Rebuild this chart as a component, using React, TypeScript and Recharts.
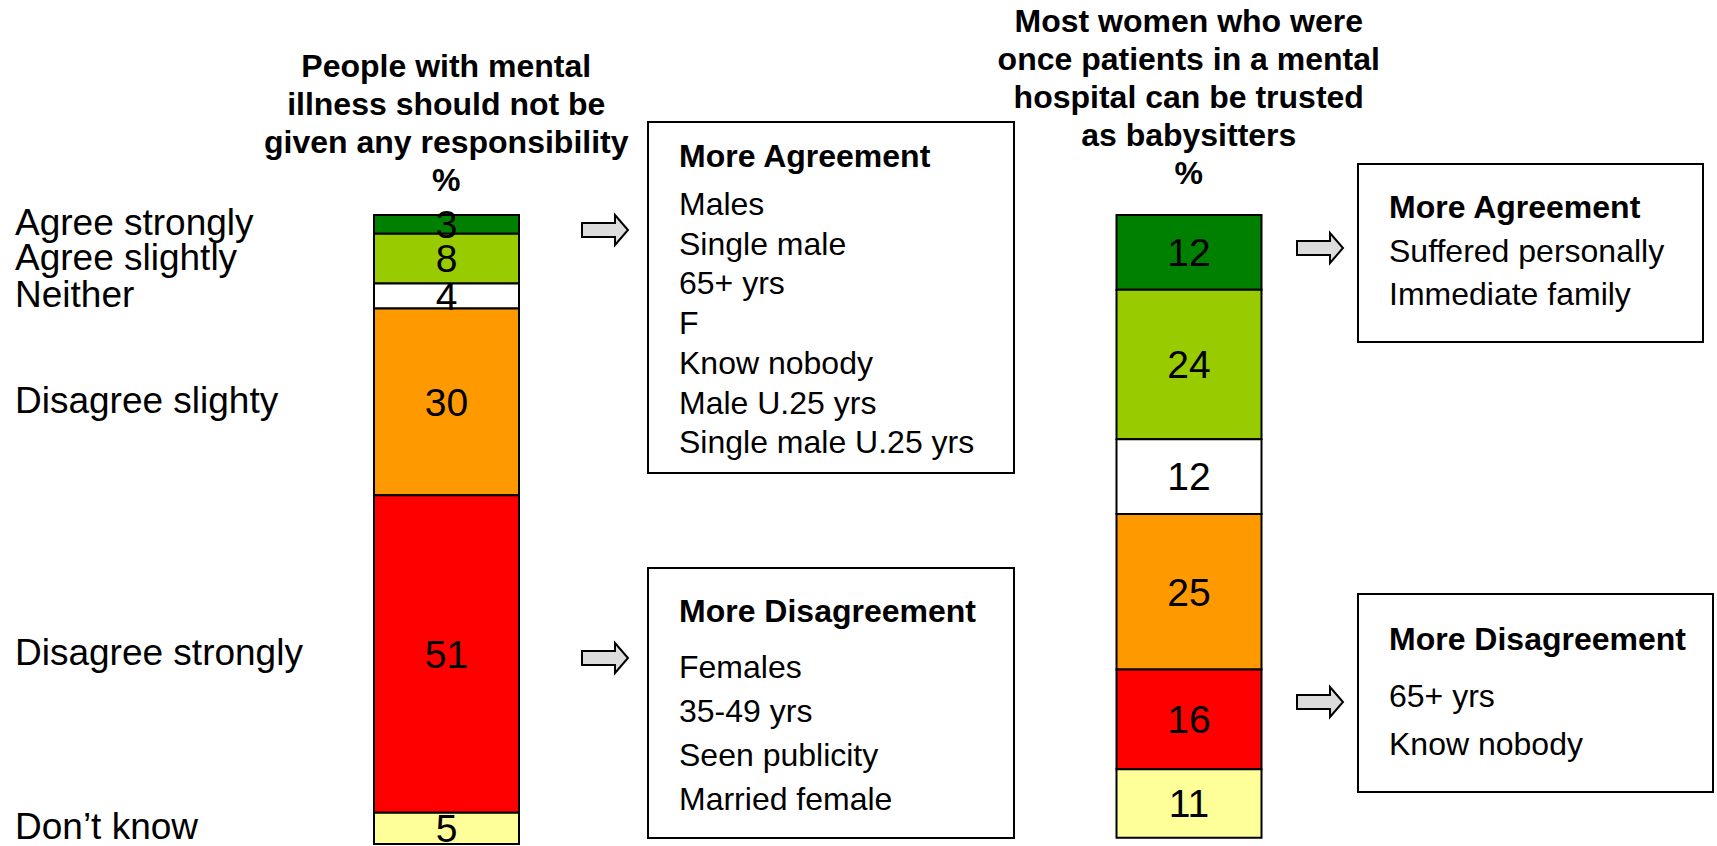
import React from "react";
import { BarChart, Bar, XAxis, YAxis, LabelList } from "recharts";

// two survey statements, same six answer categories
const questions = ["responsibility", "babysitters"];
const questionTitles = [
  ["People with mental", "illness should not be", "given any responsibility", "%"],
  ["Most women who were", "once patients in a mental", "hospital can be trusted", "as babysitters", "%"],
];
const responses = [
  "Agree strongly",
  "Agree slightly",
  "Neither",
  "Disagree slighty",
  "Disagree strongly",
  "Don’t know",
];
const responsibilityPct = [3, 8, 4, 30, 51, 5];
const babysitterPct = [12, 24, 12, 25, 16, 11];

const responsibilityAgree = [
  "Males",
  "Single male",
  "65+ yrs",
  "F",
  "Know nobody",
  "Male U.25 yrs",
  "Single male U.25 yrs",
];
const responsibilityDisagree = ["Females", "35-49 yrs", "Seen publicity", "Married female"];
const babysitterAgree = ["Suffered personally", "Immediate family"];
const babysitterDisagree = ["65+ yrs", "Know nobody"];

const FILLS = ["#008000", "#99CC00", "#FFFFFF", "#FF9900", "#FF0000", "#FFFF99"];
const FONT = "'Liberation Sans', Arial, Helvetica, sans-serif";

const keys = responses.map((_, i) => `r${i}`);
const data = questions.map((q, qi) => {
  const vals = qi === 0 ? responsibilityPct : babysitterPct;
  const row: Record<string, string | number> = { question: q };
  keys.forEach((k, i) => {
    row[k] = vals[i];
  });
  return row;
});

const TITLE_LAST_BASELINE = [191, 184];

const TitleTick = (props: any) => {
  const { x, payload } = props;
  const qi = questions.indexOf(payload?.value);
  const lines = questionTitles[qi] ?? [];
  const last = TITLE_LAST_BASELINE[qi] ?? 191;
  return (
    <text textAnchor="middle" fontFamily={FONT} fontSize={32} fontWeight="bold" fill="#000">
      {lines.map((l, i) => (
        <tspan key={i} x={x} y={last - (lines.length - 1 - i) * 38}>
          {l}
        </tspan>
      ))}
    </text>
  );
};

// answer names on the far left, lined up with the first bar's segments
const responseLabel = (name: string) => (props: any) => {
  if (props.index !== 0) return null;
  const cy = Number(props.y) + Number(props.height) / 2;
  return (
    <text x={15} y={cy + 11} fontFamily={FONT} fontSize={37} fill="#000">
      {name}
    </text>
  );
};

const boxes = [
  { x: 648, y: 122, w: 366, h: 351, title: "More Agreement", items: responsibilityAgree, tb: 167, fb: 215, step: 39.7 },
  { x: 648, y: 568, w: 366, h: 270, title: "More Disagreement", items: responsibilityDisagree, tb: 622, fb: 678, step: 44 },
  { x: 1358, y: 164, w: 345, h: 178, title: "More Agreement", items: babysitterAgree, tb: 218, fb: 262, step: 43 },
  { x: 1358, y: 594, w: 355, h: 198, title: "More Disagreement", items: babysitterDisagree, tb: 650, fb: 707, step: 48 },
];

const arrows = [
  { x: 582, cy: 230 },
  { x: 582, cy: 658 },
  { x: 1297, cy: 248 },
  { x: 1297, cy: 702 },
];

const arrowPoints = (x: number, cy: number) =>
  [
    [x, cy - 7],
    [x + 33, cy - 7],
    [x + 33, cy - 15],
    [x + 46, cy],
    [x + 33, cy + 15],
    [x + 33, cy + 7],
    [x, cy + 7],
  ]
    .map((p) => p.join(","))
    .join(" ");

export default function App() {
  return (
    <div style={{ position: "relative", width: 1717, height: 846, background: "#fff", overflow: "hidden" }}>
      <style>{"body{margin:0}"}</style>
      <BarChart
        width={1717}
        height={846}
        data={data}
        barSize={145}
        margin={{ top: 0, right: 157, bottom: 2, left: 75 }}
      >
        <XAxis
          dataKey="question"
          type="category"
          orientation="top"
          height={215}
          axisLine={false}
          tickLine={false}
          tick={TitleTick}
          interval={0}
        />
        <YAxis type="number" domain={[0, 101]} reversed hide />
        {keys.map((k, i) => (
          <Bar
            key={k}
            dataKey={k}
            stackId="a"
            fill={FILLS[i]}
            stroke="#000"
            strokeWidth={2}
            isAnimationActive={false}
          >
            <LabelList dataKey={k} position="center" fill="#000" fontSize={39} fontFamily={FONT} />
            <LabelList dataKey={k} content={responseLabel(responses[i])} />
          </Bar>
        ))}
      </BarChart>
      <svg
        width={1717}
        height={846}
        style={{ position: "absolute", left: 0, top: 0, pointerEvents: "none" }}
      >
        {arrows.map((a, i) => (
          <polygon
            key={i}
            points={arrowPoints(a.x, a.cy)}
            fill="#DCDCDC"
            stroke="#000"
            strokeWidth={2}
            strokeLinejoin="miter"
          />
        ))}
        {boxes.map((b, i) => (
          <g key={i} fontFamily={FONT} fontSize={32} fill="#000">
            <rect x={b.x} y={b.y} width={b.w} height={b.h} fill="#fff" stroke="#000" strokeWidth={2} />
            <text x={b.x + 31} y={b.tb} fontWeight="bold">
              {b.title}
            </text>
            {b.items.map((t, j) => (
              <text key={j} x={b.x + 31} y={b.fb + j * b.step}>
                {t}
              </text>
            ))}
          </g>
        ))}
      </svg>
    </div>
  );
}
